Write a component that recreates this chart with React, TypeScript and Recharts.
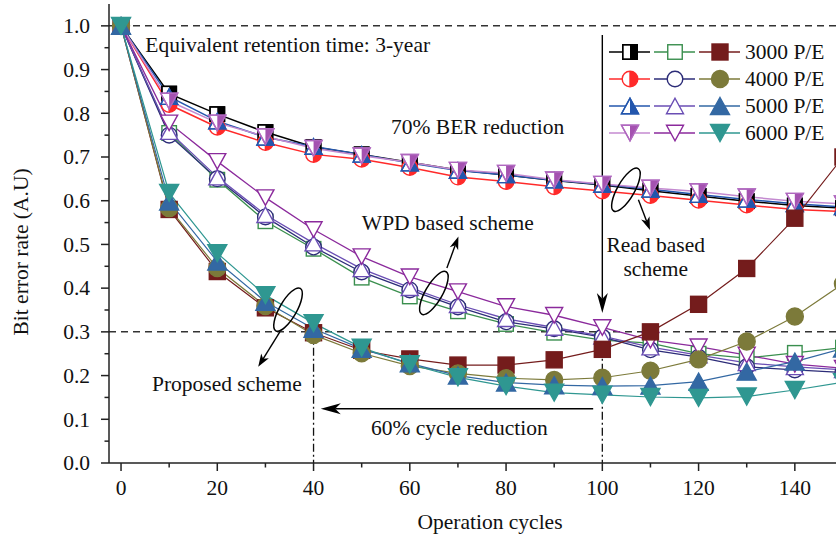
import React from 'react';
import { LineChart, Line, XAxis, YAxis, ReferenceLine, ReferenceDot } from 'recharts';

// ---------- data ----------
const cycles = [0, 10, 20, 30, 40, 50, 60, 70, 80, 90, 100, 110, 120, 130, 140, 150];

const read3000 = [1.0, 0.845, 0.798, 0.757, 0.723, 0.706, 0.688, 0.670, 0.659, 0.646, 0.636, 0.623, 0.611, 0.599, 0.589, 0.583];
const read4000 = [1.0, 0.820, 0.768, 0.733, 0.706, 0.695, 0.676, 0.654, 0.644, 0.632, 0.622, 0.612, 0.601, 0.590, 0.580, 0.575];
const read5000 = [1.0, 0.838, 0.782, 0.745, 0.724, 0.706, 0.686, 0.669, 0.659, 0.647, 0.637, 0.626, 0.614, 0.603, 0.593, 0.586];
const read6000 = [1.0, 0.828, 0.778, 0.747, 0.720, 0.703, 0.688, 0.670, 0.663, 0.648, 0.638, 0.629, 0.621, 0.609, 0.599, 0.593];

const wpd3000 = [1.0, 0.755, 0.648, 0.553, 0.490, 0.424, 0.381, 0.347, 0.318, 0.298, 0.281, 0.274, 0.250, 0.240, 0.252, 0.264];
const wpd4000 = [1.0, 0.750, 0.650, 0.563, 0.494, 0.437, 0.396, 0.357, 0.323, 0.307, 0.288, 0.259, 0.242, 0.220, 0.213, 0.207];
const wpd5000 = [1.0, 0.758, 0.654, 0.568, 0.503, 0.444, 0.401, 0.362, 0.330, 0.310, 0.290, 0.265, 0.247, 0.229, 0.220, 0.213];
const wpd6000 = [1.0, 0.778, 0.690, 0.607, 0.534, 0.472, 0.426, 0.392, 0.358, 0.338, 0.310, 0.281, 0.266, 0.247, 0.226, 0.217];

const prop3000 = [1.0, 0.580, 0.438, 0.355, 0.298, 0.258, 0.238, 0.224, 0.224, 0.236, 0.260, 0.300, 0.363, 0.445, 0.560, 0.700];
const prop4000 = [1.0, 0.583, 0.446, 0.359, 0.293, 0.251, 0.222, 0.205, 0.194, 0.190, 0.195, 0.211, 0.237, 0.278, 0.335, 0.410];
const prop5000 = [1.0, 0.598, 0.461, 0.369, 0.307, 0.261, 0.228, 0.200, 0.184, 0.178, 0.176, 0.177, 0.186, 0.209, 0.232, 0.262];
const prop6000 = [1.0, 0.618, 0.480, 0.384, 0.320, 0.264, 0.226, 0.196, 0.176, 0.161, 0.156, 0.151, 0.149, 0.152, 0.167, 0.185];

const legendLabels = ['3000 P/E', '4000 P/E', '5000 P/E', '6000 P/E'];
const xTicks = [0, 10, 20, 30, 40, 50, 60, 70, 80, 90, 100, 110, 120, 130, 140, 150];
const yTicks = [0, 0.05, 0.1, 0.15, 0.2, 0.25, 0.3, 0.35, 0.4, 0.45, 0.5, 0.55, 0.6, 0.65, 0.7, 0.75, 0.8, 0.85, 0.9, 0.95, 1.0];

const FONT = '"Liberation Serif", "Times New Roman", serif';
const FS = 21.5;
const AX = '#222';

type Shape = 'square' | 'circle' | 'tri' | 'itri';
type Mode = 'half' | 'open' | 'full';

interface SeriesDef {
  key: string;
  values: number[];
  shape: Shape;
  mode: Mode;
  line: string;
  stroke: string;
  fill: string;
  width: number;
}

const shapes: Shape[] = ['square', 'circle', 'tri', 'itri'];

const readColors = [
  { line: '#000000', stroke: '#000000', fill: '#000000' },
  { line: '#ff2a2a', stroke: '#ff2a2a', fill: '#ff2a2a' },
  { line: '#2356ad', stroke: '#2356ad', fill: '#2356ad' },
  { line: '#c48ad0', stroke: '#b068bf', fill: '#a452b0' },
];
const wpdColors = ['#3a8f4e', '#2c2c78', '#6a4eb4', '#8b2a9c'];
const propColors = ['#741c1c', '#7c7a3a', '#3368a3', '#2f9791'];

const series: SeriesDef[] = [
  ...[read3000, read4000, read5000, read6000].map((v, i) => ({
    key: 'read' + i, values: v, shape: shapes[i], mode: 'half' as Mode,
    line: readColors[i].line, stroke: readColors[i].stroke, fill: readColors[i].fill, width: 1.5,
  })),
  ...[wpd3000, wpd4000, wpd5000, wpd6000].map((v, i) => ({
    key: 'wpd' + i, values: v, shape: shapes[i], mode: 'open' as Mode,
    line: wpdColors[i], stroke: wpdColors[i], fill: wpdColors[i], width: 1.3,
  })),
  ...[prop3000, prop4000, prop5000, prop6000].map((v, i) => ({
    key: 'prop' + i, values: v, shape: shapes[i], mode: 'full' as Mode,
    line: propColors[i], stroke: propColors[i], fill: propColors[i], width: 1.2,
  })),
];

const tableData = cycles.map((c, i) => {
  const row: Record<string, number> = { cycle: c };
  series.forEach((s) => { row[s.key] = s.values[i]; });
  return row;
});

// ---------- markers ----------
function Marker({ cx, cy, shape, mode, stroke, fill }: { cx: number; cy: number; shape: Shape; mode: Mode; stroke: string; fill: string }) {
  const base = mode === 'full' ? fill : '#ffffff';
  const sw = 1.4;
  const big = mode === 'full';
  if (shape === 'square') {
    const s = big ? 16 : 14.5;
    const h = s / 2;
    return (
      <g>
        <rect x={cx - h} y={cy - h} width={s} height={s} fill={base} stroke={stroke} strokeWidth={sw} />
        {mode === 'half' && <rect x={cx} y={cy - h} width={h} height={s} fill={fill} />}
        {mode === 'half' && <rect x={cx - h} y={cy - h} width={s} height={s} fill="none" stroke={stroke} strokeWidth={sw} />}
      </g>
    );
  }
  if (shape === 'circle') {
    const r = big ? 8.5 : 7.8;
    return (
      <g>
        <circle cx={cx} cy={cy} r={r} fill={base} stroke={stroke} strokeWidth={sw} />
        {mode === 'half' && <path d={`M${cx},${cy - r} A${r},${r} 0 0 1 ${cx},${cy + r} Z`} fill={fill} />}
        {mode === 'half' && <line x1={cx} y1={cy - r} x2={cx} y2={cy + r} stroke={stroke} strokeWidth={sw} />}
        {mode === 'half' && <line x1={cx} y1={cy} x2={cx + r} y2={cy} stroke={stroke} strokeWidth={sw} />}
      </g>
    );
  }
  const w = big ? 19 : 17;
  const hh = big ? 17 : 15.5;
  const top = cy - hh / 2;
  const bot = cy + hh / 2;
  if (shape === 'tri') {
    const pts = `${cx},${top} ${cx + w / 2},${bot} ${cx - w / 2},${bot}`;
    return (
      <g>
        <polygon points={pts} fill={base} stroke={stroke} strokeWidth={sw} strokeLinejoin="miter" />
        {mode === 'half' && <polygon points={`${cx},${top} ${cx + w / 2},${bot} ${cx},${bot}`} fill={fill} />}
        {mode === 'half' && <polygon points={pts} fill="none" stroke={stroke} strokeWidth={sw} />}
      </g>
    );
  }
  const pts = `${cx - w / 2},${top} ${cx + w / 2},${top} ${cx},${bot}`;
  return (
    <g>
      <polygon points={pts} fill={base} stroke={stroke} strokeWidth={sw} />
      {mode === 'half' && <polygon points={`${cx},${top} ${cx + w / 2},${top} ${cx},${bot}`} fill={fill} />}
      {mode === 'half' && <polygon points={pts} fill="none" stroke={stroke} strokeWidth={sw} />}
    </g>
  );
}

const dotFor = (s: SeriesDef) => (p: any) => {
  const { cx, cy, index } = p;
  if (cx == null || cy == null || isNaN(cx) || isNaN(cy)) return <g key={`${s.key}-${index}`} />;
  return (
    <g key={`${s.key}-${index}`}>
      <Marker cx={cx} cy={cy} shape={s.shape} mode={s.mode} stroke={s.stroke} fill={s.fill} />
    </g>
  );
};

// ---------- ticks ----------
const isMajorX = (v: number) => Math.round(v) % 20 === 0;
const isMajorY = (v: number) => Math.abs(v * 10 - Math.round(v * 10)) < 1e-6;

const BottomTick = (p: any) => {
  const { x, y, payload } = p;
  const v = payload.value;
  const major = isMajorX(v);
  return (
    <g>
      <line x1={x} y1={y} x2={x} y2={y + (major ? 8 : 4.5)} stroke={AX} strokeWidth={1.5} />
      {major && (
        <text x={x} y={y + 32} textAnchor="middle" fontFamily={FONT} fontSize={FS} fill="#111">{v}</text>
      )}
    </g>
  );
};

const TopTick = (p: any) => {
  const { x, y, payload } = p;
  const major = isMajorX(payload.value);
  return <line x1={x} y1={y} x2={x} y2={y + (major ? 8 : 4.5)} stroke={AX} strokeWidth={1.5} />;
};

const LeftTick = (p: any) => {
  const { x, y, payload } = p;
  const v = payload.value;
  const major = isMajorY(v);
  return (
    <g>
      <line x1={x} y1={y} x2={x - (major ? 8 : 4.5)} y2={y} stroke={AX} strokeWidth={1.5} />
      {major && (
        <text x={x - 19} y={y} dy="0.34em" textAnchor="end" fontFamily={FONT} fontSize={FS} fill="#111">{v.toFixed(1)}</text>
      )}
    </g>
  );
};

// ---------- annotation shapes ----------
const arrowShape = (headLen: number, headW: number, sw: number) => (p: any) => {
  const { x1, y1, x2, y2 } = p;
  const ang = Math.atan2(y2 - y1, x2 - x1);
  const c = Math.cos(ang);
  const s = Math.sin(ang);
  const bx = x2 - headLen * c;
  const by = y2 - headLen * s;
  const nx = -s;
  const ny = c;
  const notch = headLen * 0.72;
  const mx = x2 - notch * c;
  const my = y2 - notch * s;
  return (
    <g>
      <line x1={x1} y1={y1} x2={mx} y2={my} stroke="#000" strokeWidth={sw} />
      <polygon
        points={`${x2},${y2} ${bx + nx * headW},${by + ny * headW} ${mx},${my} ${bx - nx * headW},${by - ny * headW}`}
        fill="#000"
      />
    </g>
  );
};

const ellipseShape = (p: any) => (
  <ellipse cx={p.cx} cy={p.cy} rx={8.5} ry={24.5} fill="none" stroke="#000" strokeWidth={1.5}
    transform={`rotate(30 ${p.cx} ${p.cy})`} />
);

const textShape = (t: string, anchor: 'start' | 'middle' | 'end' = 'middle') => (p: any) => (
  <text x={p.cx} y={p.cy} textAnchor={anchor} fontFamily={FONT} fontSize={FS} fill="#111">{t}</text>
);

// ---------- legend ----------
function Legend() {
  const rowY = [52, 79, 106, 133];
  const cols = [
    { x1: 609, x2: 650, cx: 630 },
    { x1: 654, x2: 695, cx: 675 },
    { x1: 699, x2: 740, cx: 720 },
  ];
  const groups = [series.slice(0, 4), series.slice(4, 8), series.slice(8, 12)];
  return (
    <svg width={836} height={540} style={{ position: 'absolute', left: 0, top: 0, pointerEvents: 'none' }}>
      {rowY.map((y, r) => (
        <g key={r}>
          {cols.map((c, ci) => {
            const s = groups[ci][r];
            return (
              <g key={ci}>
                <line x1={c.x1} y1={y} x2={c.x2} y2={y} stroke={s.line} strokeWidth={1.5} />
                <Marker cx={c.cx} cy={y} shape={s.shape} mode={s.mode} stroke={s.stroke} fill={s.fill} />
              </g>
            );
          })}
          <text x={745} y={y} dy="0.34em" fontFamily={FONT} fontSize={FS} fill="#111">{legendLabels[r]}</text>
        </g>
      ))}
    </svg>
  );
}

export default function App() {
  return (
    <div style={{ position: 'absolute', left: 0, top: 0, width: 836, height: 540, overflow: 'hidden', background: '#fff' }}>
      <LineChart width={880} height={540} data={tableData} margin={{ top: 4, right: 25, left: 39, bottom: 37 }}>
        <XAxis
          dataKey="cycle" type="number" domain={[-2.5, 152.5]} ticks={xTicks} interval={0}
          tickLine={false} tickSize={0} tickMargin={0} tick={<BottomTick />} height={40}
          axisLine={{ stroke: AX, strokeWidth: 1.5 }}
          label={(p: any) => {
            const vb = p.viewBox;
            return (
              <text x={vb.x + 381} y={vb.y + 66} textAnchor="middle" fontFamily={FONT} fontSize={FS} fill="#111">
                Operation cycles
              </text>
            );
          }}
        />
        <XAxis
          xAxisId="top" orientation="top" dataKey="cycle" type="number" domain={[-2.5, 152.5]} ticks={xTicks}
          interval={0} tickLine={false} tickSize={0} tickMargin={0} tick={<TopTick />} height={0}
          axisLine={{ stroke: AX, strokeWidth: 1.5 }}
        />
        <YAxis
          type="number" domain={[0, 1.05]} ticks={yTicks} interval={0} width={70}
          tickLine={false} tickSize={0} tickMargin={0} tick={<LeftTick />}
          axisLine={{ stroke: AX, strokeWidth: 1.5 }}
          label={(p: any) => {
            const vb = p.viewBox;
            const x = vb.x + vb.width - 81;
            const y = 252;
            return (
              <text x={x} y={y} transform={`rotate(-90 ${x} ${y})`} textAnchor="middle" fontFamily={FONT} fontSize={FS} fill="#111">
                Bit error rate (A.U)
              </text>
            );
          }}
        />

        <ReferenceLine y={1.0} stroke="#333" strokeWidth={1.5} strokeDasharray="7 5" />
        <ReferenceLine y={0.3} stroke="#333" strokeWidth={1.5} strokeDasharray="7 5" />
        <ReferenceLine segment={[{ x: 40, y: 0.3 }, { x: 40, y: 0 }]} stroke="#111" strokeWidth={1.3} strokeDasharray="8 3 2 3" />
        <ReferenceLine segment={[{ x: 100, y: 0.3 }, { x: 100, y: 0 }]} stroke="#111" strokeWidth={1.3} strokeDasharray="8 3 2 3" />

        {series.map((s) => (
          <Line
            key={s.key} dataKey={s.key} type="linear" stroke={s.line} strokeWidth={s.width}
            dot={dotFor(s)} activeDot={false} isAnimationActive={false} legendType="none"
          />
        ))}

        <ReferenceLine segment={[{ x: 100, y: 0.979 }, { x: 100, y: 0.343 }]} shape={arrowShape(20, 5.5, 1.4)} />
        <ReferenceLine segment={[{ x: 98.1, y: 0.124 }, { x: 41.5, y: 0.124 }]} shape={arrowShape(20, 5.5, 1.4)} />
        <ReferenceLine segment={[{ x: 33.0, y: 0.300 }, { x: 28.5, y: 0.220 }]} shape={arrowShape(13, 4.5, 1.4)} />
        <ReferenceLine segment={[{ x: 67.7, y: 0.446 }, { x: 70.1, y: 0.518 }]} shape={arrowShape(13, 4.5, 1.4)} />
        <ReferenceLine segment={[{ x: 107.5, y: 0.602 }, { x: 109.9, y: 0.533 }]} shape={arrowShape(13, 4.5, 1.4)} />

        <ReferenceDot x={34.7} y={0.351} shape={ellipseShape} />
        <ReferenceDot x={65.0} y={0.389} shape={ellipseShape} />
        <ReferenceDot x={104.9} y={0.625} shape={ellipseShape} />

        <ReferenceDot x={5.05} y={0.9405} shape={textShape('Equivalent retention time: 3-year', 'start')} />
        <ReferenceDot x={74.1} y={0.753} shape={textShape('70% BER reduction')} />
        <ReferenceDot x={67.9} y={0.533} shape={textShape('WPD based scheme')} />
        <ReferenceDot x={111.1} y={0.483} shape={textShape('Read based')} />
        <ReferenceDot x={111.1} y={0.428} shape={textShape('scheme')} />
        <ReferenceDot x={22.0} y={0.165} shape={textShape('Proposed scheme')} />
        <ReferenceDot x={70.3} y={0.064} shape={textShape('60% cycle reduction')} />
      </LineChart>
      <Legend />
    </div>
  );
}
